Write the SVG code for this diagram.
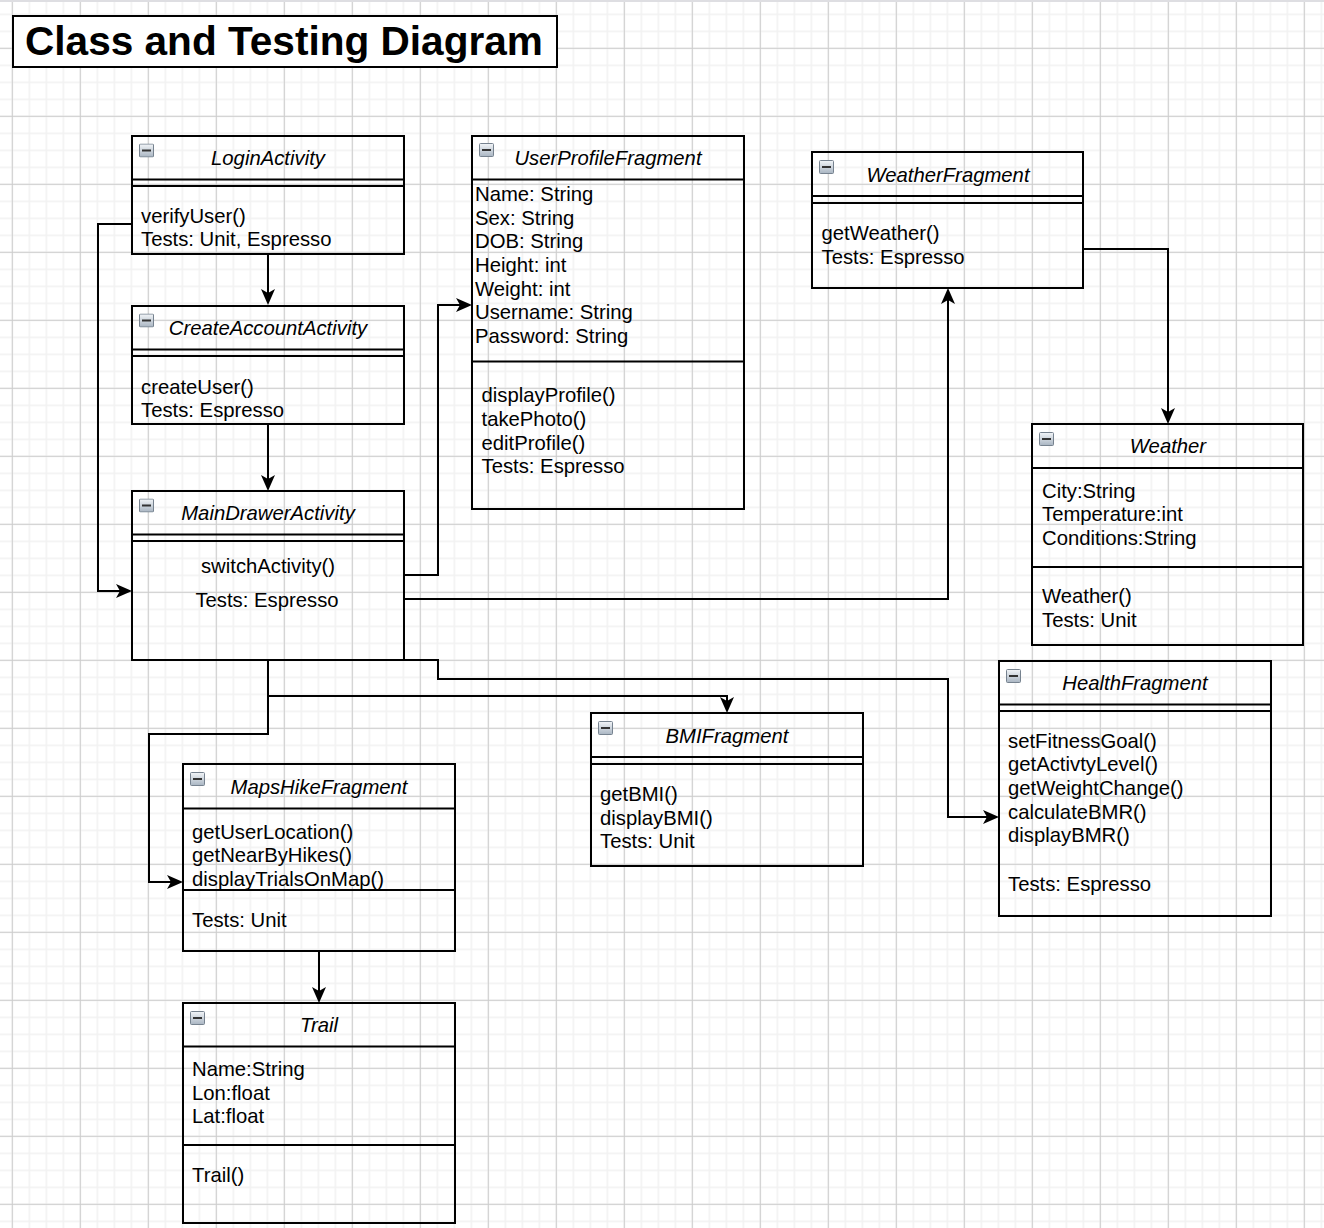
<svg xmlns="http://www.w3.org/2000/svg" width="1324" height="1228" viewBox="0 0 1324 1228">
<defs>
<style>
.box{fill:none;stroke:#000;stroke-width:2}
.sep{stroke:#000;stroke-width:2}
.t{font-family:"Liberation Sans",Arial,Helvetica,sans-serif;font-size:20.3px;fill:#000}
.h{font-style:italic;text-anchor:middle}
.c{text-anchor:middle}
.edge{fill:none;stroke:#000;stroke-width:2;marker-end:url(#arr)}
</style>
<pattern id="minor" patternUnits="userSpaceOnUse" x="11.55" y="13.55" width="17" height="17">
<rect x="0" y="0" width="1.5" height="17" fill="#f1f1f1"/>
<rect x="0" y="0" width="17" height="1.5" fill="#f1f1f1"/>
</pattern>
<pattern id="major" patternUnits="userSpaceOnUse" x="11.8" y="47.8" width="68" height="68">
<rect x="0" y="0" width="1" height="68" fill="#cdcdcd"/>
<rect x="0" y="0" width="68" height="1" fill="#cdcdcd"/>
</pattern>
<linearGradient id="ig" x1="0" y1="0" x2="0" y2="1">
<stop offset="0" stop-color="#f2f5f8"/>
<stop offset="1" stop-color="#a9b5c2"/>
</linearGradient>
<symbol id="minus" viewBox="0 0 15 14" width="15" height="14">
<rect x="0.5" y="0.5" width="14" height="13" rx="1" fill="url(#ig)" stroke="#76828f" stroke-width="1"/>
<rect x="3" y="6" width="9" height="2" fill="#333"/>
</symbol>
<marker id="arr" markerUnits="userSpaceOnUse" markerWidth="16" markerHeight="14" viewBox="0 0 16 14" refX="4" refY="7" orient="auto">
<path d="M0,0 L16,7 L0,14 L4,7 Z" fill="#000"/>
</marker>
</defs>
<rect x="0" y="0" width="1324" height="1228" fill="#fff"/>
<rect x="0" y="0" width="1324" height="1228" fill="url(#minor)"/>
<rect x="0" y="0" width="1324" height="1228" fill="url(#major)"/>
<rect x="0" y="0" width="1324" height="2" fill="#dedee2"/>

<g id="title">
<rect x="13" y="16" width="544" height="51" fill="#fff" stroke="#000" stroke-width="2"/>
<text x="25" y="55" style="font-family:'Liberation Sans',Arial,Helvetica,sans-serif;font-size:40.6px;font-weight:bold">Class and Testing Diagram</text>
</g>

<g id="connectors">
<path class="edge" d="M268,254 V293"/>
<path class="edge" d="M268,424 V479"/>
<path class="edge" d="M132,224 H98 V591 H120"/>
<path class="edge" d="M404,575 H438 V305 H460"/>
<path class="edge" d="M404,599 H948 V300"/>
<path class="edge" d="M1083,249 H1168 V412"/>
<path class="edge" d="M268,660 V696 H727 V701"/>
<path class="edge" d="M268,660 V734 H149 V882 H171"/>
<path class="edge" d="M404,660 H438 V679 H948 V817 H987"/>
<path class="edge" d="M319,951 V991"/>
</g>

<g id="LoginActivity">
<rect class="box" x="132" y="136" width="272" height="118"/>
<line class="sep" x1="132" y1="179.5" x2="404" y2="179.5"/>
<line class="sep" x1="132" y1="186" x2="404" y2="186"/>
<use href="#minus" x="139" y="143.5"/>
<text class="t h" x="268" y="165">LoginActivity</text>
<text class="t" x="141" y="222.5">verifyUser()</text>
<text class="t" x="141" y="246">Tests: Unit, Espresso</text>
</g>

<g id="CreateAccountActivity">
<rect class="box" x="132" y="306" width="272" height="118"/>
<line class="sep" x1="132" y1="349.5" x2="404" y2="349.5"/>
<line class="sep" x1="132" y1="356" x2="404" y2="356"/>
<use href="#minus" x="139" y="313.5"/>
<text class="t h" x="268" y="335">CreateAccountActivity</text>
<text class="t" x="141" y="393.5">createUser()</text>
<text class="t" x="141" y="417">Tests: Espresso</text>
</g>

<g id="MainDrawerActivity">
<rect class="box" x="132" y="491" width="272" height="169"/>
<line class="sep" x1="132" y1="534.5" x2="404" y2="534.5"/>
<line class="sep" x1="132" y1="541" x2="404" y2="541"/>
<use href="#minus" x="139" y="498.5"/>
<text class="t h" x="268" y="520">MainDrawerActivity</text>
<text class="t c" x="268" y="572.5">switchActivity()</text>
<text class="t c" x="267" y="606.5">Tests: Espresso</text>
</g>

<g id="UserProfileFragment">
<rect class="box" x="472" y="136" width="272" height="373"/>
<line class="sep" x1="472" y1="179.5" x2="744" y2="179.5"/>
<line class="sep" x1="472" y1="361.5" x2="744" y2="361.5"/>
<use href="#minus" x="479" y="143"/>
<text class="t h" x="608" y="165">UserProfileFragment</text>
<text class="t" x="475" y="201">Name: String</text>
<text class="t" x="475" y="224.7">Sex: String</text>
<text class="t" x="475" y="248.3">DOB: String</text>
<text class="t" x="475" y="272">Height: int</text>
<text class="t" x="475" y="295.7">Weight: int</text>
<text class="t" x="475" y="319.3">Username: String</text>
<text class="t" x="475" y="343">Password: String</text>
<text class="t" x="481.5" y="402.3">displayProfile()</text>
<text class="t" x="481.5" y="426">takePhoto()</text>
<text class="t" x="481.5" y="449.7">editProfile()</text>
<text class="t" x="481.5" y="473.3">Tests: Espresso</text>
</g>

<g id="WeatherFragment">
<rect class="box" x="812" y="152" width="271" height="136"/>
<line class="sep" x1="812" y1="196" x2="1083" y2="196"/>
<line class="sep" x1="812" y1="203" x2="1083" y2="203"/>
<use href="#minus" x="819" y="160"/>
<text class="t h" x="948" y="181.5">WeatherFragment</text>
<text class="t" x="821.5" y="240">getWeather()</text>
<text class="t" x="821.5" y="264">Tests: Espresso</text>
</g>

<g id="Weather">
<rect class="box" x="1032" y="424" width="271" height="221"/>
<line class="sep" x1="1032" y1="468" x2="1303" y2="468"/>
<line class="sep" x1="1032" y1="567" x2="1303" y2="567"/>
<use href="#minus" x="1039" y="432"/>
<text class="t h" x="1168" y="453">Weather</text>
<text class="t" x="1042" y="497.5">City:String</text>
<text class="t" x="1042" y="521">Temperature:int</text>
<text class="t" x="1042" y="544.5">Conditions:String</text>
<text class="t" x="1042" y="603">Weather()</text>
<text class="t" x="1042" y="626.5">Tests: Unit</text>
</g>

<g id="BMIFragment">
<rect class="box" x="591" y="713" width="272" height="153"/>
<line class="sep" x1="591" y1="757" x2="863" y2="757"/>
<line class="sep" x1="591" y1="764" x2="863" y2="764"/>
<use href="#minus" x="598" y="721"/>
<text class="t h" x="727" y="742.5">BMIFragment</text>
<text class="t" x="600" y="801">getBMI()</text>
<text class="t" x="600" y="824.7">displayBMI()</text>
<text class="t" x="600" y="848.3">Tests: Unit</text>
</g>

<g id="HealthFragment">
<rect class="box" x="999" y="661" width="272" height="255"/>
<line class="sep" x1="999" y1="704.5" x2="1271" y2="704.5"/>
<line class="sep" x1="999" y1="711" x2="1271" y2="711"/>
<use href="#minus" x="1006" y="669"/>
<text class="t h" x="1135" y="690">HealthFragment</text>
<text class="t" x="1008" y="747.5">setFitnessGoal()</text>
<text class="t" x="1008" y="771.2">getActivtyLevel()</text>
<text class="t" x="1008" y="794.8">getWeightChange()</text>
<text class="t" x="1008" y="818.5">calculateBMR()</text>
<text class="t" x="1008" y="842.2">displayBMR()</text>
<text class="t" x="1008" y="890.5">Tests: Espresso</text>
</g>

<g id="MapsHikeFragment">
<rect class="box" x="183" y="764" width="272" height="187"/>
<line class="sep" x1="183" y1="808.5" x2="455" y2="808.5"/>
<line class="sep" x1="183" y1="890" x2="455" y2="890"/>
<use href="#minus" x="190" y="772"/>
<text class="t h" x="319" y="793.5">MapsHikeFragment</text>
<text class="t" x="192" y="838.5">getUserLocation()</text>
<text class="t" x="192" y="862.2">getNearByHikes()</text>
<text class="t" x="192" y="885.8">displayTrialsOnMap()</text>
<text class="t" x="192" y="926.5">Tests: Unit</text>
</g>

<g id="Trail">
<rect class="box" x="183" y="1003" width="272" height="220"/>
<line class="sep" x1="183" y1="1046.5" x2="455" y2="1046.5"/>
<line class="sep" x1="183" y1="1145" x2="455" y2="1145"/>
<use href="#minus" x="190" y="1011"/>
<text class="t h" x="319" y="1032">Trail</text>
<text class="t" x="192" y="1076">Name:String</text>
<text class="t" x="192" y="1099.7">Lon:float</text>
<text class="t" x="192" y="1123.3">Lat:float</text>
<text class="t" x="192" y="1181.5">Trail()</text>
</g>
</svg>
